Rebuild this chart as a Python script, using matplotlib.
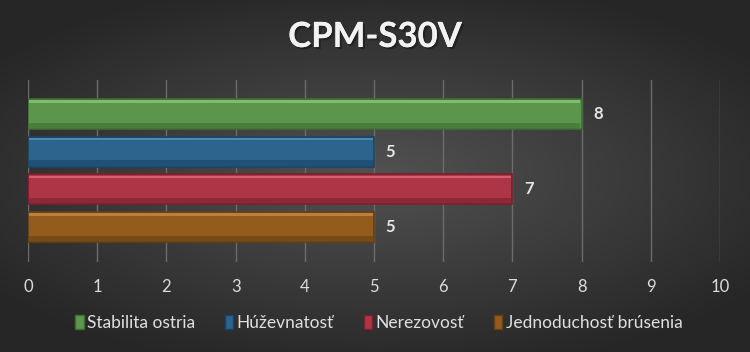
import numpy as np
import matplotlib
matplotlib.use("Agg")
import matplotlib.pyplot as plt
import matplotlib.patheffects as pe
from matplotlib.patches import Patch

title = "CPM-S30V"
series = ["Stabilita ostria", "Húževnatosť", "Nerezovosť", "Jednoduchosť brúsenia"]
values = [8, 5, 7, 5]
colors = ["#5c964c", "#2b648c", "#ad3646", "#935c1c"]
edges = ["#3d6e30", "#1a4466", "#7a1f2c", "#66400f"]
highlights = ["#8cc47a", "#5a92b8", "#de6c78", "#c48a48"]
xticks = list(range(0, 11))

plt.rcParams["font.family"] = ["Lato", "DejaVu Sans"]

fig = plt.figure(figsize=(7.5, 3.52), dpi=100)

# radial dark background
bg = fig.add_axes([0, 0, 1, 1], zorder=-10)
yy, xx = np.mgrid[-1:1:352j, -1:1:750j]
r = np.sqrt((xx * 0.9) ** 2 + (yy * 1.0) ** 2)
shade = np.clip(0.32 - 0.15 * r, 0.15, 0.32)
bg.imshow(np.dstack([shade] * 3), aspect="auto", extent=[0, 1, 0, 1])
bg.axis("off")

ax = fig.add_axes([28 / 750, 1 - 262 / 352, 692 / 750, 182 / 352])
ax.patch.set_alpha(0)

ypos = np.arange(len(values))
h = 0.8
for y, v, c, e, hl in zip(ypos, values, colors, edges, highlights):
    ax.barh(y, v, height=h, color=c, edgecolor=e, linewidth=1.2, zorder=3)
    ax.barh(y - h / 2 + 0.07, v - 0.04, left=0.02, height=0.07,
            color=hl, linewidth=0, zorder=4, alpha=0.8)
    ax.barh(y + h / 2 - 0.1, v - 0.04, left=0.02, height=0.14,
            color=e, linewidth=0, zorder=4, alpha=0.6)
    ax.text(v + 0.24, y, str(v), color="#e6e6e6", fontsize=12,
            fontweight="bold", va="center", ha="center", zorder=5)

ax.set_xlim(0, 10)
ax.set_ylim(3.93, -0.9)
ax.set_xticks(xticks)
ax.set_yticks([])
ax.grid(axis="x", color="#6c6c6c", linewidth=1, zorder=0)
ax.tick_params(axis="x", length=0, colors="#dcdcdc", labelsize=12, pad=12)
for s in ax.spines.values():
    s.set_visible(False)

fig.text(0.5, 1 - 37 / 352, title, ha="center", va="center", fontsize=25,
         fontweight="bold", color="#f2f2f2",
         path_effects=[pe.withSimplePatchShadow(offset=(1.5, -1.5),
                                                shadow_rgbFace="#1e1e1e",
                                                alpha=0.8), pe.Normal()])

handles = [Patch(facecolor=c, edgecolor=e) for c, e in zip(colors, edges)]
fig.legend(handles, series, loc="center", bbox_to_anchor=(0.505, 1 - 323 / 352),
           ncol=4, frameon=False, fontsize=12.5, labelcolor="#e0e0e0",
           handlelength=0.5, handleheight=0.8, handletextpad=0.2,
           columnspacing=1.7)

fig.savefig("out.png", dpi=100, facecolor="#333333")
